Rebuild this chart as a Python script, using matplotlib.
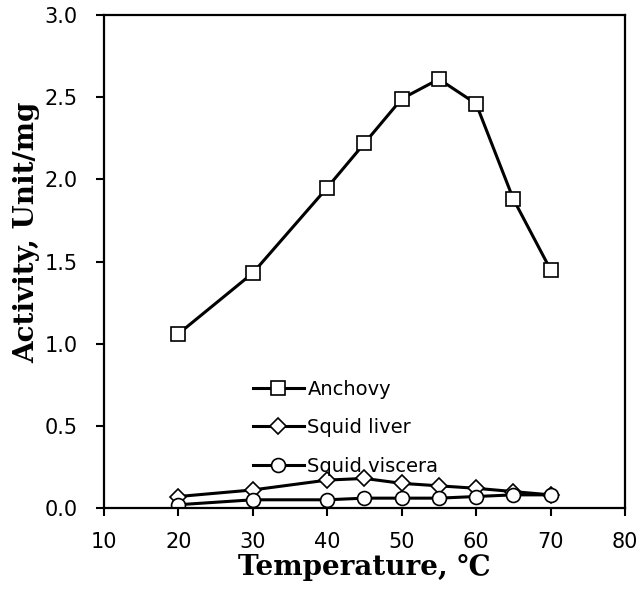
import matplotlib.pyplot as plt

temps = [20, 30, 40, 45, 50, 55, 60, 65, 70]
anchovy = [1.06, 1.43, 1.95, 2.22, 2.49, 2.61, 2.46, 1.88, 1.45]
squid_liver = [0.07, 0.11, 0.17, 0.18, 0.15, 0.135, 0.12, 0.10, 0.08]
squid_viscera = [0.02, 0.05, 0.05, 0.06, 0.06, 0.06, 0.07, 0.08, 0.08]

x_ticks = [10, 20, 30, 40, 50, 60, 70, 80]
y_ticks = [0.0, 0.5, 1.0, 1.5, 2.0, 2.5, 3.0]

plt.rcParams['font.family'] = ['DejaVu Sans']

fig = plt.figure(figsize=(6.43, 6.06), dpi=100)
ax = fig.add_axes([0.1617, 0.1617, 0.8103, 0.8135])

style = dict(color='black', lw=2.2, markerfacecolor='white', markeredgecolor='black', markeredgewidth=1.2)
ax.plot(temps, anchovy, marker='s', markersize=10, label='Anchovy', **style)
ax.plot(temps, squid_liver, marker='D', markersize=8, label='Squid liver', **style)
ax.plot(temps, squid_viscera, marker='o', markersize=10, label='Squid viscera', **style)

ax.set_xlim(10, 80)
ax.set_ylim(0, 3.0)
ax.set_xticks(x_ticks)
ax.set_yticks(y_ticks)
ax.set_yticklabels([f'{v:.1f}' for v in y_ticks])
ax.tick_params(direction='out', length=6, width=1.5, labelsize=15)
ax.tick_params(axis='y', pad=13)
ax.tick_params(axis='x', pad=11)
for s in ax.spines.values():
    s.set_linewidth(1.6)

label_font = dict(family=['DejaVu Serif'], fontweight='bold', fontsize=20)
ax.set_xlabel('Temperature, \u2103', **label_font)
ax.set_ylabel('Activity, Unit/mg', **label_font)
ax.xaxis.set_label_coords(0.5, -0.094)
ax.yaxis.set_label_coords(-0.122, 0.559)

leg = ax.legend(loc='upper left', bbox_to_anchor=(0.286, 0.26), frameon=False,
                fontsize=14, handlelength=2.6, handletextpad=0.2, labelspacing=1.0,
                borderpad=0, borderaxespad=0)

fig.savefig('out.png', dpi=100)
